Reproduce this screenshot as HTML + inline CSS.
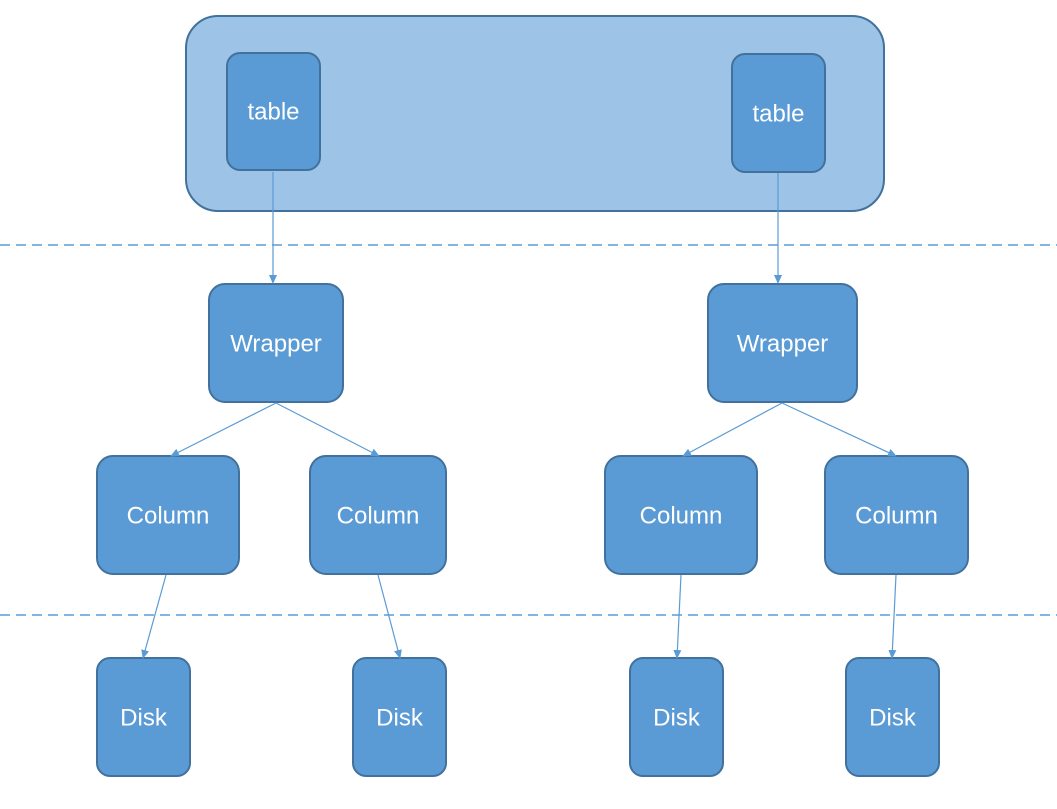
<!DOCTYPE html>
<html><head><style>
html,body{margin:0;padding:0;background:#fff;}
svg{display:block;}
text{font-family:"Liberation Sans",sans-serif;font-size:24px;fill:#fff;text-anchor:middle;dominant-baseline:central;}
</style></head><body>
<svg width="1057" height="809" viewBox="0 0 1057 809" xmlns="http://www.w3.org/2000/svg">
<defs>
<marker id="a" markerWidth="10" markerHeight="10" refX="8" refY="5" orient="auto" markerUnits="userSpaceOnUse">
<path d="M0,1 L9,5 L0,9 z" fill="#5B9BD5"/>
</marker>
</defs>
<rect x="186" y="16" width="698" height="195" rx="32" fill="#9DC3E6" stroke="#41719C" stroke-width="2"/>
<line x1="0" y1="245" x2="1057" y2="245" stroke="#5B9BD5" stroke-width="1.5" stroke-dasharray="10,6"/>
<line x1="0" y1="615" x2="1057" y2="615" stroke="#5B9BD5" stroke-width="1.5" stroke-dasharray="10,6"/>
<g fill="#5B9BD5" stroke="#41719C" stroke-width="2">
<rect x="227" y="53" width="93" height="117" rx="13"/>
<rect x="732" y="54" width="93" height="118" rx="13"/>
<rect x="209" y="284" width="134" height="118" rx="16"/>
<rect x="708" y="284" width="149" height="118" rx="16"/>
<rect x="97" y="456" width="142" height="118" rx="16"/>
<rect x="310" y="456" width="136" height="118" rx="16"/>
<rect x="605" y="456" width="152" height="118" rx="16"/>
<rect x="825" y="456" width="143" height="118" rx="16"/>
<rect x="97" y="658" width="93" height="118" rx="13"/>
<rect x="353" y="658" width="93" height="118" rx="13"/>
<rect x="630" y="658" width="93" height="118" rx="13"/>
<rect x="846" y="658" width="93" height="118" rx="13"/>
</g>
<g stroke="#5B9BD5" stroke-width="1.2" marker-end="url(#a)">
<line x1="273" y1="172" x2="273" y2="283"/>
<line x1="778" y1="173" x2="778" y2="283"/>
<line x1="276" y1="403" x2="171" y2="456"/>
<line x1="276" y1="403" x2="379" y2="456"/>
<line x1="782" y1="403" x2="683" y2="456"/>
<line x1="782" y1="403" x2="896" y2="456"/>
<line x1="166" y1="575" x2="143" y2="658"/>
<line x1="378" y1="575" x2="400" y2="658"/>
<line x1="681" y1="575" x2="677" y2="658"/>
<line x1="896" y1="575" x2="892" y2="658"/>
</g>
<text x="273.5" y="112">table</text>
<text x="778.5" y="114">table</text>
<text x="276" y="344">Wrapper</text>
<text x="782.5" y="344">Wrapper</text>
<text x="168" y="516">Column</text>
<text x="378" y="516">Column</text>
<text x="681" y="516">Column</text>
<text x="896.5" y="516">Column</text>
<text x="143.5" y="718">Disk</text>
<text x="399.5" y="718">Disk</text>
<text x="676.5" y="718">Disk</text>
<text x="892.5" y="718">Disk</text>
</svg>
</body></html>
